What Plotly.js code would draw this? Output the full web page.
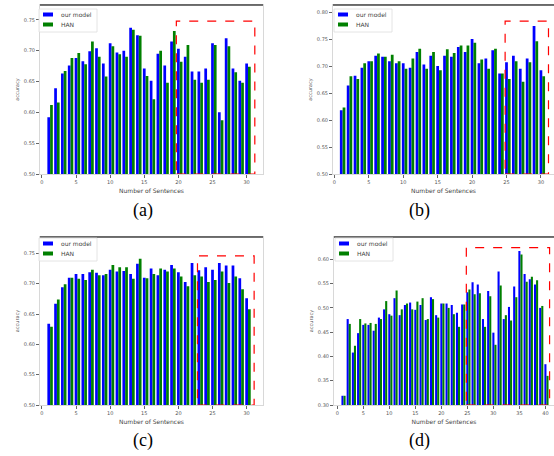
<!DOCTYPE html>
<html>
<head>
<meta charset="utf-8">
<script src="https://cdn.plot.ly/plotly-3.0.1.min.js"></script>
<style>html,body{margin:0;padding:0;background:#fff;}#chart{width:554px;height:456px;}</style>
</head>
<body>
<div id="chart"></div>
<script>
// ---- data ----
const sentA = Array.from({length: 30}, (_, i) => i + 1);
const sentD = Array.from({length: 40}, (_, i) => i + 1);

const oursA = [0.592,0.639,0.663,0.676,0.688,0.683,0.699,0.704,0.679,0.712,0.697,0.700,0.737,0.725,0.671,0.651,0.695,0.676,0.715,0.703,0.690,0.666,0.666,0.671,0.712,0.600,0.720,0.671,0.651,0.679];
const hanA  = [0.612,0.616,0.667,0.688,0.696,0.678,0.715,0.690,0.658,0.707,0.694,0.690,0.734,0.724,0.659,0.621,0.700,0.648,0.732,0.682,0.709,0.653,0.648,0.653,0.709,0.587,0.707,0.665,0.648,0.674];

const oursB = [0.618,0.664,0.682,0.697,0.709,0.719,0.717,0.709,0.705,0.705,0.697,0.726,0.703,0.719,0.700,0.719,0.717,0.735,0.726,0.750,0.705,0.714,0.729,0.686,0.707,0.719,0.695,0.714,0.774,0.692];
const hanB  = [0.623,0.681,0.676,0.705,0.709,0.723,0.717,0.721,0.709,0.695,0.714,0.732,0.695,0.726,0.692,0.731,0.724,0.738,0.738,0.743,0.712,0.695,0.732,0.686,0.676,0.709,0.671,0.707,0.746,0.681];

const oursC = [0.634,0.667,0.694,0.710,0.716,0.716,0.719,0.718,0.714,0.723,0.720,0.721,0.716,0.733,0.710,0.725,0.714,0.723,0.731,0.719,0.703,0.734,0.722,0.727,0.723,0.734,0.730,0.730,0.709,0.676];
const hanC  = [0.629,0.674,0.699,0.710,0.708,0.706,0.723,0.714,0.716,0.731,0.727,0.727,0.708,0.741,0.709,0.716,0.725,0.720,0.725,0.712,0.696,0.714,0.712,0.703,0.706,0.720,0.701,0.712,0.691,0.658];

const oursD = [0.319,0.477,0.408,0.448,0.465,0.465,0.453,0.480,0.497,0.487,0.520,0.485,0.506,0.511,0.496,0.506,0.475,0.522,0.485,0.509,0.509,0.506,0.490,0.507,0.532,0.553,0.548,0.477,0.535,0.449,0.575,0.477,0.502,0.544,0.617,0.570,0.559,0.548,0.500,0.384];
const hanD  = [0.319,0.467,0.422,0.477,0.468,0.469,0.467,0.477,0.514,0.484,0.536,0.497,0.509,0.497,0.513,0.520,0.477,0.518,0.480,0.509,0.500,0.487,0.461,0.507,0.538,0.528,0.530,0.461,0.524,0.424,0.546,0.485,0.474,0.522,0.610,0.554,0.564,0.557,0.504,0.360];

const seriesNames = ['our model', 'HAN'];
const xTicksA = [0, 5, 10, 15, 20, 25, 30];
const xTicksD = [0, 5, 10, 15, 20, 25, 30, 35, 40];
const yTicksA = [0.50, 0.55, 0.60, 0.65, 0.70, 0.75];
const yTicksB = [0.50, 0.55, 0.60, 0.65, 0.70, 0.75, 0.80];
const yTicksD = [0.30, 0.35, 0.40, 0.45, 0.50, 0.55, 0.60];
const captions = ['(a)', '(b)', '(c)', '(d)'];

// ---- styling ----
const COLORS = ['#0000ff', '#008000'];
const panels = [
  {x: sentA, o: oursA, h: hanA, xa: 'x',  ya: 'y'},
  {x: sentA, o: oursB, h: hanB, xa: 'x2', ya: 'y2'},
  {x: sentA, o: oursC, h: hanC, xa: 'x3', ya: 'y3'},
  {x: sentD, o: oursD, h: hanD, xa: 'x4', ya: 'y4'}
];
const traces = [];
panels.forEach(p => {
  traces.push({type: 'bar', x: p.x, y: p.o, name: seriesNames[0], xaxis: p.xa, yaxis: p.ya,
    offset: -0.2, width: 0.4, marker: {color: COLORS[0], line: {width: 0}}, showlegend: false});
  traces.push({type: 'bar', x: p.x, y: p.h, name: seriesNames[1], xaxis: p.xa, yaxis: p.ya,
    offset: 0.2, width: 0.4, marker: {color: COLORS[1], line: {width: 0}}, showlegend: false});
});

const W = 554, H = 456;
const fx = v => v / W, fy = v => 1 - v / H;
const tickFont = {family: 'DejaVu Sans', size: 5, color: '#555'};
function xax(dom, range, ticks) {
  return {domain: dom, range: range, tickvals: ticks, ticktext: ticks.map(String),
    ticks: 'outside', ticklen: 3, tickcolor: '#666', tickwidth: 1,
    showline: true, linecolor: '#d8d8d8', linewidth: 1, mirror: true,
    showgrid: false, zeroline: false, tickfont: tickFont,
    title: {text: 'Number of Sentences', font: {family: 'DejaVu Sans', size: 6, color: '#444'}, standoff: 4}};
}
function yax(dom, range, ticks, anchor) {
  return {domain: dom, range: range, tickvals: ticks, ticktext: ticks.map(t => t.toFixed(2)),
    ticks: 'outside', ticklen: 3, tickcolor: '#666', tickwidth: 1,
    showline: true, linecolor: '#d8d8d8', linewidth: 1, mirror: true,
    showgrid: false, zeroline: false, tickfont: tickFont, anchor: anchor,
    title: {text: 'accuracy', font: {family: 'DejaVu Sans', size: 5, color: '#555'}, standoff: 4}};
}
const domAX = [fx(40), fx(263)], domBX = [fx(333), 1], domDX = [fx(334), 1];
const domTopY = [fy(174), fy(5)], domBotY = [fy(405), fy(237)];

function rect(xr, yr, x0, x1, y0, y1) {
  return {type: 'rect', xref: xr, yref: yr, x0: x0, x1: x1, y0: y0, y1: y1,
    line: {color: '#ff0000', width: 1.2, dash: 'dash'}, fillcolor: 'rgba(0,0,0,0)'};
}
function topLine(xr, yr) {
  return {type: 'line', xref: xr + ' domain', yref: yr + ' domain', x0: 0, x1: 1, y0: 1, y1: 1,
    line: {color: '#444', width: 1.5}};
}
// hand-drawn legend boxes (pixel positions of each legend's top-left corner)
const legendPos = [[39, 9], [334, 9], [39, 238], [335, 238]];
const legendShapes = [], legendTexts = [];
legendPos.forEach(([lx, ly]) => {
  legendShapes.push({type: 'rect', xref: 'paper', yref: 'paper', x0: fx(lx), x1: fx(lx + 58), y0: fy(ly), y1: fy(ly + 23),
    line: {color: '#dddddd', width: 0.8}, fillcolor: 'rgba(255,255,255,0.85)'});
  seriesNames.forEach((nm, k) => {
    const cy = ly + 5.5 + k * 10;
    legendShapes.push({type: 'rect', xref: 'paper', yref: 'paper', x0: fx(lx + 4), x1: fx(lx + 14),
      y0: fy(cy - 2), y1: fy(cy + 2), line: {width: 0}, fillcolor: COLORS[k]});
    legendTexts.push({text: nm, xref: 'paper', yref: 'paper', x: fx(lx + 20), y: fy(cy), xanchor: 'left', yanchor: 'middle',
      showarrow: false, font: {family: 'DejaVu Sans', size: 6, color: '#444'}});
  });
});

const capFont = {family: 'Liberation Serif', size: 18, color: '#000'};
const capPos = [[143, 210], [419, 210], [143, 440], [419, 440]];

const layout = {
  width: W, height: H, margin: {l: 0, r: 0, t: 0, b: 0},
  paper_bgcolor: '#fff', plot_bgcolor: '#fff', barmode: 'overlay', showlegend: false,
  xaxis: xax(domAX, [-0.28, 32.4], xTicksA), yaxis: yax(domTopY, [0.5, 0.774], yTicksA, 'x'),
  xaxis2: Object.assign(xax(domBX, [-0.2, 31.9], xTicksA), {anchor: 'y2'}), yaxis2: yax(domTopY, [0.5, 0.813], yTicksB, 'x2'),
  xaxis3: Object.assign(xax(domAX, [-0.28, 32.4], xTicksA), {anchor: 'y3'}), yaxis3: yax(domBotY, [0.5, 0.777], yTicksA, 'x3'),
  xaxis4: Object.assign(xax(domDX, [-0.63, 41.65], xTicksD), {anchor: 'y4'}), yaxis4: yax(domBotY, [0.3, 0.646], yTicksD, 'x4'),
  shapes: [
    rect('x', 'y', 19.7, 31.2, 0.5, 0.748),
    rect('x2', 'y2', 24.8, 31.1, 0.5, 0.783),
    rect('x3', 'y3', 22.8, 31.1, 0.5, 0.746),
    rect('x4', 'y4', 24.8, 40.8, 0.3, 0.624),
    topLine('x', 'y'), topLine('x2', 'y2'), topLine('x3', 'y3'), topLine('x4', 'y4')
  ].concat(legendShapes),
  annotations: captions.map((c, i) => ({text: c, xref: 'paper', yref: 'paper',
    x: fx(capPos[i][0]), y: fy(capPos[i][1]), xanchor: 'center', yanchor: 'middle',
    showarrow: false, font: capFont})).concat(legendTexts)
};
Plotly.newPlot('chart', traces, layout, {displayModeBar: false, staticPlot: true});
</script>
</body>
</html>
